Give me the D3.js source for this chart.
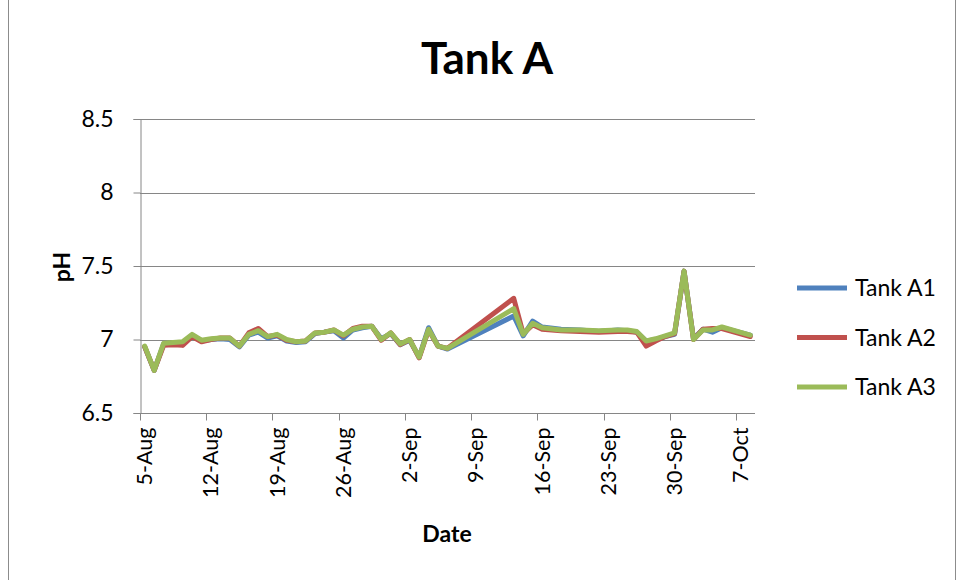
<!DOCTYPE html>
<html>
<head>
<meta charset="utf-8">
<script src="https://cdn.jsdelivr.net/npm/d3@7"></script>
<style>
  html, body { margin: 0; padding: 0; background: #fff; }
  svg { display: block; font-family: Lato, "Open Sans", sans-serif; }
</style>
</head>
<body>
<svg id="chart" width="960" height="580"></svg>
<script>
// Sample dates (year is only used for date arithmetic)
const dates = [
  "2013-08-05","2013-08-06","2013-08-07","2013-08-08","2013-08-09","2013-08-10","2013-08-11",
  "2013-08-12","2013-08-13","2013-08-14","2013-08-15","2013-08-16","2013-08-17","2013-08-18",
  "2013-08-19","2013-08-20","2013-08-21","2013-08-22","2013-08-23","2013-08-24","2013-08-25",
  "2013-08-26","2013-08-27","2013-08-28","2013-08-29","2013-08-30","2013-08-31","2013-09-01",
  "2013-09-02","2013-09-03","2013-09-04","2013-09-05","2013-09-06",
  "2013-09-13","2013-09-14","2013-09-15","2013-09-16","2013-09-18","2013-09-20","2013-09-22",
  "2013-09-24","2013-09-25","2013-09-26","2013-09-27","2013-09-28","2013-09-29","2013-09-30",
  "2013-10-01","2013-10-02","2013-10-03","2013-10-04","2013-10-05","2013-10-08"
];

const tankA1 = [
  6.95, 6.79, 6.97, 6.975, 6.975, 7.03, 6.99,
  7.0, 7.005, 7.0, 6.95, 7.03, 7.05, 7.01,
  7.025, 6.99, 6.98, 6.985, 7.04, 7.05, 7.06,
  7.01, 7.065, 7.08, 7.09, 7.005, 7.04, 6.965,
  6.995, 6.88, 7.08, 6.955, 6.935,
  7.16, 7.025, 7.125, 7.085, 7.07, 7.065, 7.055,
  7.065, 7.06, 7.05, 6.99, 7.0, 7.02, 7.035,
  7.465, 7.005, 7.07, 7.05, 7.08, 7.03
];

const tankA2 = [
  6.95, 6.79, 6.96, 6.965, 6.96, 7.02, 6.985,
  7.0, 7.01, 7.01, 6.955, 7.045, 7.075, 7.02,
  7.03, 6.995, 6.985, 6.99, 7.045, 7.05, 7.065,
  7.025, 7.075, 7.09, 7.09, 6.995, 7.045, 6.965,
  7.0, 6.875, 7.065, 6.955, 6.94,
  7.28, 7.04, 7.1, 7.07, 7.06, 7.055, 7.05,
  7.055, 7.055, 7.05, 6.955, 6.99, 7.02, 7.04,
  7.465, 7.0, 7.07, 7.075, 7.075, 7.02
];

const tankA3 = [
  6.955, 6.79, 6.975, 6.98, 6.985, 7.035, 6.995,
  7.005, 7.01, 7.01, 6.955, 7.035, 7.06, 7.02,
  7.035, 7.0, 6.985, 6.99, 7.045, 7.05, 7.065,
  7.03, 7.07, 7.085, 7.09, 7.0, 7.045, 6.97,
  7.0, 6.88, 7.07, 6.955, 6.94,
  7.21, 7.035, 7.11, 7.08, 7.065, 7.065, 7.06,
  7.065, 7.065, 7.055, 6.99, 7.005, 7.025, 7.045,
  7.465, 7.0, 7.065, 7.065, 7.085, 7.03
];

const seriesNames = ["Tank A1", "Tank A2", "Tank A3"];
const seriesColors = ["#4F81BD", "#C0504D", "#9BBB59"];
const yTicks = [6.5, 7, 7.5, 8, 8.5];
const xTickDates = ["2013-08-05","2013-08-12","2013-08-19","2013-08-26","2013-09-02",
                    "2013-09-09","2013-09-16","2013-09-23","2013-09-30","2013-10-07"];

const parse = d3.timeParse("%Y-%m-%d");
const fmt = d3.timeFormat("%-d-%b");
const HALF_DAY = 12 * 3600 * 1000;

const svg = d3.select("#chart");
const plot = { left: 140, right: 755, top: 119, bottom: 413 };

// Outer chart frame
svg.append("rect")
  .attr("x", 8.5).attr("y", -2).attr("width", 947).attr("height", 590)
  .attr("fill", "none").attr("stroke", "#8c8c8c").attr("stroke-width", 1);

// Each day occupies one slot; points sit in the middle of their slot
const x = d3.scaleTime()
  .domain([new Date(parse("2013-08-05").getTime() - HALF_DAY),
           new Date(parse("2013-10-08").getTime() + HALF_DAY)])
  .range([plot.left, plot.right]);
const y = d3.scaleLinear().domain([6.5, 8.5]).range([plot.bottom, plot.top]);

// Horizontal gridlines
svg.append("g").selectAll("line").data(yTicks.slice(1)).join("line")
  .attr("x1", plot.left).attr("x2", plot.right)
  .attr("y1", d => Math.round(y(d)) + 0.5).attr("y2", d => Math.round(y(d)) + 0.5)
  .attr("stroke", "#868686").attr("stroke-width", 1);

// Y axis
const yAxis = svg.append("g")
  .attr("transform", `translate(${plot.left + 0.5},0)`)
  .call(d3.axisLeft(y).tickValues(yTicks).tickFormat(d3.format("")).tickSize(7).tickPadding(20));
yAxis.select(".domain").attr("stroke", "#868686");
yAxis.selectAll(".tick line").attr("stroke", "#868686");
yAxis.selectAll(".tick text").attr("font-size", 23).attr("fill", "#000")
  .attr("font-family", "Lato, sans-serif");

// X axis: tick marks on slot boundaries, labels on the dates
const xTicks = xTickDates.map(parse);
const xAxisG = svg.append("g").attr("transform", `translate(0,${Math.round(plot.bottom) + 0.5})`);
xAxisG.append("line").attr("x1", plot.left).attr("x2", plot.right)
  .attr("stroke", "#868686");
xAxisG.selectAll("line.tk").data(xTicks.map(d => new Date(d.getTime() - HALF_DAY))).join("line")
  .attr("class", "tk")
  .attr("x1", d => Math.round(x(d)) + 0.5).attr("x2", d => Math.round(x(d)) + 0.5)
  .attr("y1", 0).attr("y2", 7).attr("stroke", "#868686");
xAxisG.selectAll("text").data(xTicks).join("text")
  .attr("transform", d => `translate(${x(d) + 7.5},14) rotate(-90)`)
  .attr("text-anchor", "end")
  .attr("font-size", 21.5).attr("fill", "#000")
  .text(d => fmt(d));

// Series lines
const seriesValues = [tankA1, tankA2, tankA3];
const line = d3.line().x(d => x(d.date)).y(d => y(d.value));
seriesValues.forEach((vals, i) => {
  const pts = dates.map((dt, j) => ({ date: parse(dt), value: vals[j] }));
  svg.append("path").datum(pts)
    .attr("d", line)
    .attr("fill", "none")
    .attr("stroke", seriesColors[i])
    .attr("stroke-width", 5)
    .attr("stroke-linejoin", "round")
    .attr("stroke-linecap", "round");
});

// Title
svg.append("text").attr("x", 487).attr("y", 74)
  .attr("text-anchor", "middle").attr("font-size", 44).attr("font-weight", "bold")
  .text("Tank A");

// Axis titles
svg.append("text").attr("x", 447).attr("y", 542)
  .attr("text-anchor", "middle").attr("font-size", 23).attr("font-weight", "bold")
  .text("Date");
svg.append("text").attr("transform", "translate(70,267) rotate(-90)")
  .attr("text-anchor", "middle").attr("font-size", 23).attr("font-weight", "bold")
  .text("pH");

// Legend
const legend = svg.append("g");
seriesNames.forEach((name, i) => {
  const ly = 288 + i * 49.5;
  legend.append("line").attr("x1", 797).attr("x2", 847).attr("y1", ly).attr("y2", ly)
    .attr("stroke", seriesColors[i]).attr("stroke-width", 5);
  legend.append("text").attr("x", 855).attr("y", ly + 8)
    .attr("font-size", 23).text(name);
});
</script>
</body>
</html>
